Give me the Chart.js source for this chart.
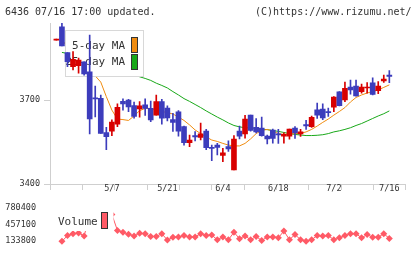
<!DOCTYPE html>
<html>
<head>
<meta charset="utf-8">
<script src="https://cdn.jsdelivr.net/npm/chart.js@4.4.1/dist/chart.umd.min.js"></script>
<style>
    body { margin: 0; background: #fff; }
    #wrap { position: relative; width: 420px; height: 259px; overflow: hidden; }
    canvas { position: absolute; left: 0; top: 0; }
    .txt { position: absolute; top: 6px; font: 10px "DejaVu Sans Mono", monospace; color: #333; white-space: pre; line-height: 12px; }
</style>
</head>
<body>
<div id="wrap">
    <canvas id="pricechart" width="420" height="259"></canvas>
    <canvas id="volumechart" width="420" height="259"></canvas>
    <div class="txt" style="left:5px">6436 07/16 17:00 updated.</div>
    <div class="txt" style="left:255px">(C)https://www.rizumu.net/</div>
</div>
<script>
const dateLabels = ["5/7", "5/21", "6/4", "6/18", "7/2", "7/16"];
const dateIndex = [10, 20, 30, 40, 50, 60];

const priceTicks = [3400, 3700];
const volumeTicks = [133800, 457100, 780400];

const opens = [
    3914, 3961, 3869, 3819, 3823, 3836, 3801, 3708, 3706, 3584,
    3589, 3614, 3695, 3700, 3680, 3668, 3683, 3670, 3646, 3694,
    3671, 3630, 3658, 3605, 3548, 3573, 3566, 3589, 3530, 3539,
    3502, 3534, 3450, 3589, 3579, 3646, 3602, 3600, 3571, 3593,
    3579, 3571, 3571, 3600, 3579, 3612, 3605, 3665, 3668, 3658,
    3674, 3729, 3700, 3746, 3750, 3730, 3743, 3761, 3733, 3768,
    3789
];
const highs = [
    3914, 3975, 3869, 3873, 3850, 3836, 3932, 3750, 3718, 3602,
    3629, 3686, 3704, 3702, 3693, 3694, 3704, 3696, 3718, 3702,
    3679, 3652, 3662, 3607, 3575, 3587, 3618, 3595, 3539, 3545,
    3527, 3554, 3573, 3607, 3645, 3646, 3634, 3639, 3575, 3596,
    3595, 3583, 3596, 3605, 3595, 3627, 3643, 3689, 3686, 3671,
    3712, 3730, 3764, 3771, 3771, 3757, 3762, 3779, 3766, 3789,
    3805
];
const lows = [
    3914, 3893, 3819, 3807, 3796, 3789, 3579, 3640, 3581, 3523,
    3573, 3605, 3664, 3658, 3635, 3639, 3645, 3623, 3646, 3614,
    3625, 3588, 3571, 3539, 3533, 3554, 3557, 3523, 3483, 3504,
    3480, 3516, 3450, 3561, 3564, 3589, 3582, 3571, 3543, 3546,
    3545, 3546, 3560, 3563, 3570, 3595, 3602, 3634, 3630, 3641,
    3658, 3679, 3694, 3721, 3714, 3724, 3724, 3718, 3723, 3763,
    3762
];
const closes = [
    3914, 3893, 3837, 3845, 3843, 3793, 3632, 3704, 3581, 3569,
    3621, 3674, 3686, 3675, 3641, 3679, 3670, 3629, 3694, 3635,
    3636, 3620, 3589, 3548, 3557, 3568, 3579, 3530, 3527, 3531,
    3511, 3525, 3560, 3571, 3632, 3591, 3586, 3573, 3561, 3563,
    3575, 3577, 3596, 3582, 3586, 3607, 3638, 3646, 3636, 3655,
    3710, 3680, 3742, 3736, 3715, 3746, 3745, 3720, 3750, 3775,
    3784
];
const ma5 = [
    null, 3915, 3890, 3868, 3850, 3838, 3814, 3786, 3764, 3712,
    3664, 3632, 3630, 3627, 3643, 3662, 3670, 3670, 3664, 3659,
    3655, 3650, 3639, 3627, 3611, 3593, 3580, 3568, 3557, 3552,
    3545, 3539, 3536, 3536, 3545, 3561, 3580, 3591, 3595, 3589,
    3580, 3577, 3579, 3580, 3581, 3586, 3595, 3607, 3620, 3632,
    3646, 3659, 3673, 3693, 3709, 3718, 3725, 3730, 3736, 3745,
    3754
];
const ma25 = [
    null, 3870, 3866, 3862, 3858, 3852, 3847, 3841, 3834, 3828,
    3821, 3815, 3808, 3800, 3792, 3783, 3777, 3770, 3760, 3752,
    3743, 3730, 3718, 3705, 3695, 3684, 3673, 3661, 3650, 3639,
    3629, 3618, 3609, 3604, 3601, 3600, 3599, 3596, 3594, 3591,
    3588, 3584, 3580, 3577, 3575, 3573, 3573, 3574, 3576, 3580,
    3586, 3590, 3595, 3601, 3609, 3616, 3625, 3634, 3643, 3651,
    3661
];
const volumes = [
    null, 129000, 242100, 279300, 295500, 235600, 640000, 720000, 610000, 530000,
    660000, 343900, 306800, 268000, 235600, 290600, 279300, 225900, 225900, 279300,
    154800, 209800, 214600, 242100, 214600, 214600, 279300, 242100, 251800, 161300,
    214600, 161300, 306800, 182300, 235600, 161300, 225900, 145100, 214600, 214600,
    198500, 332600, 161300, 263100, 161300, 129000, 161300, 242100, 235600, 242100,
    161300, 198500, 242100, 279300, 279300, 198500, 263100, 209800, 209800, 279300,
    187100
];

const upColor = "#d80000";
const downColor = "#3c3cbc";
const ma5Color = "#f08c10";
const ma25Color = "#18a818";
const volumeColor = "#ff5a66";
const axisColor = "#cfcfcf";
const textColor = "#333";
const smallFont = { family: "DejaVu Sans Mono", size: 8.5 };

const xMin = -1.15;
const xMax = 62.95;

const idx = opens.map((_, i) => i);

// MA legend sits above the MA lines but below the candles
const maLegend = {
    id: "maLegend",
    beforeDatasetDraw(chart, args) {
        if (args.index !== 2) return;
        const ctx = chart.ctx;
        ctx.save();
        ctx.fillStyle = "#fff";
        ctx.fillRect(65, 30, 79, 47);
        ctx.strokeStyle = "#d8d8d8";
        ctx.lineWidth = 1;
        ctx.strokeRect(65.5, 30.5, 78, 46);
        ctx.font = '11px "DejaVu Sans Mono"';
        ctx.fillStyle = textColor;
        ctx.textAlign = "right";
        ctx.textBaseline = "middle";
        ctx.fillText("5-day MA", 125, 46);
        ctx.fillText("25-day MA", 125, 62.5);
        ctx.strokeStyle = "#333";
        ctx.fillStyle = ma5Color;
        ctx.fillRect(131.5, 37.5, 6, 15);
        ctx.strokeRect(131.5, 37.5, 6, 15);
        ctx.fillStyle = ma25Color;
        ctx.fillRect(131.5, 54.5, 6, 15);
        ctx.strokeRect(131.5, 54.5, 6, 15);
        ctx.restore();
    }
};

const volumeLegend = {
    id: "volumeLegend",
    afterDatasetsDraw(chart) {
        const ctx = chart.ctx;
        ctx.save();
        ctx.fillStyle = "#fff";
        ctx.fillRect(55, 203, 58.5, 28);
        ctx.font = '11px "DejaVu Sans Mono"';
        ctx.fillStyle = textColor;
        ctx.textAlign = "left";
        ctx.textBaseline = "middle";
        ctx.fillText("Volume", 58, 222.5);
        ctx.fillStyle = volumeColor;
        ctx.strokeStyle = "#333";
        ctx.fillRect(101.5, 212.5, 6, 16);
        ctx.strokeRect(101.5, 212.5, 6, 16);
        ctx.restore();
    }
};

function renderPriceChart() {
    const candleColors = idx.map(i => closes[i] >= opens[i] ? upColor : downColor);

    new Chart(document.getElementById("pricechart"), {
        type: "line",
        data: {
            datasets: [
                {
                    label: "5-day MA",
                    data: idx.map(i => ({ x: i, y: ma5[i] })),
                    borderColor: ma5Color,
                    borderWidth: 1,
                    pointRadius: 0,
                    order: 3,
                },
                {
                    label: "25-day MA",
                    data: idx.map(i => ({ x: i, y: ma25[i] })),
                    borderColor: ma25Color,
                    borderWidth: 1,
                    pointRadius: 0,
                    order: 3,
                },
                {
                    type: "bar",
                    label: "wick",
                    data: idx.map(i => ({ x: i, y: [lows[i], highs[i]] })),
                    backgroundColor: candleColors,
                    barThickness: 1,
                    minBarLength: 1,
                    grouped: false,
                    order: 2,
                },
                {
                    type: "bar",
                    label: "body",
                    data: idx.map(i => ({ x: i, y: [opens[i], closes[i]] })),
                    backgroundColor: candleColors,
                    barThickness: 5,
                    minBarLength: 1,
                    grouped: false,
                    order: 1,
                },
            ],
        },
        options: {
            responsive: false,
            animation: false,
            devicePixelRatio: 1,
            layout: { padding: { left: 0, right: 14.3, top: 23, bottom: 69 } },
            plugins: { legend: { display: false }, tooltip: { enabled: false } },
            scales: {
                x: {
                    type: "linear",
                    display: false,
                    min: xMin,
                    max: xMax,
                    offset: false,
                },
                xg: {
                    type: "linear",
                    position: "bottom",
                    min: 0,
                    max: 11,
                    offset: false,
                    ticks: { display: false, stepSize: 1 },
                    grid: { drawOnChartArea: false, drawTicks: true, tickLength: 6, color: axisColor },
                    border: { display: true, color: axisColor },
                    afterFit(scale) { scale.height = 6; },
                },
                y: {
                    type: "linear",
                    min: 3400,
                    max: 3975,
                    afterBuildTicks(scale) {
                        scale.ticks = priceTicks.map(v => ({ value: v }));
                    },
                    ticks: {
                        color: textColor,
                        font: smallFont,
                        padding: 4,
                        callback: value => String(value),
                    },
                    grid: { drawOnChartArea: false, drawTicks: true, tickLength: 6, color: axisColor },
                    border: { display: true, color: axisColor },
                    afterFit(scale) { scale.width = 50; },
                },
            },
        },
        plugins: [maLegend],
    });
}

function renderVolumeChart() {
    new Chart(document.getElementById("volumechart"), {
        type: "line",
        data: {
            datasets: [
                {
                    label: "Volume",
                    data: idx.map(i => ({ x: i, y: volumes[i] })),
                    borderColor: volumeColor,
                    borderWidth: 1,
                    pointStyle: "rectRot",
                    pointRadius: 3.5,
                    pointBorderWidth: 0,
                    pointBackgroundColor: volumeColor,
                },
            ],
        },
        options: {
            responsive: false,
            animation: false,
            devicePixelRatio: 1,
            layout: { padding: { left: 0, right: 14.3, top: 0, bottom: 1.7 } },
            plugins: { legend: { display: false }, tooltip: { enabled: false } },
            scales: {
                x: {
                    type: "linear",
                    position: "top",
                    min: xMin,
                    max: xMax,
                    offset: false,
                    afterBuildTicks(scale) {
                        scale.ticks = dateIndex.map(v => ({ value: v }));
                    },
                    ticks: {
                        color: textColor,
                        font: smallFont,
                        padding: 3,
                        maxRotation: 0,
                        autoSkip: false,
                        callback: (value) => dateLabels[dateIndex.indexOf(value)],
                    },
                    grid: { display: false },
                    border: { display: false },
                    afterFit(scale) { scale.height = 205; },
                },
                y: {
                    type: "linear",
                    min: 0,
                    max: 845000,
                    afterBuildTicks(scale) {
                        scale.ticks = volumeTicks.map(v => ({ value: v }));
                    },
                    ticks: {
                        color: textColor,
                        font: smallFont,
                        padding: 6,
                        callback: value => String(value),
                    },
                    grid: { display: false },
                    border: { display: false },
                    afterFit(scale) { scale.width = 50; },
                },
            },
        },
        plugins: [volumeLegend],
    });
}

renderPriceChart();
renderVolumeChart();
</script>
</body>
</html>
